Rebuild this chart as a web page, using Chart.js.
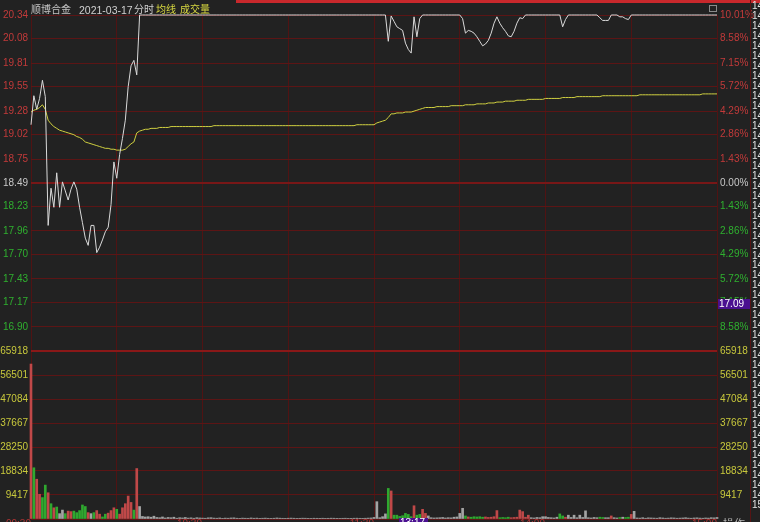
<!DOCTYPE html>
<html>
<head>
<meta charset="utf-8">
<title>顺博合金 分时</title>
<script src="https://cdn.jsdelivr.net/npm/chart.js@4.4.1/dist/chart.umd.min.js"></script>
<style>
  html, body { margin: 0; padding: 0; background: #222222; }
  #wrap { position: relative; width: 760px; height: 522px; overflow: hidden; background: #222222;
          font-family: "Liberation Sans", Arial, "Noto Sans CJK SC", sans-serif; }
  canvas { position: absolute; left: 0; }
  #priceChart { top: 0; }
  #volChart { top: 340px; }
  .txt { position: absolute; white-space: nowrap; font-size: 10px; line-height: 12px; }
  .cjk { font-family: "Noto Sans CJK SC", sans-serif; }
  .box { position: absolute; background: #4a1090; color: #ffffff; font-size: 10px; line-height: 10px; }
</style>
</head>
<body>
<div id="wrap">
  <canvas id="priceChart" width="760" height="340"></canvas>
  <canvas id="volChart" width="760" height="182"></canvas>
</div>
<script>
// minute data, 09:30 .. 11:30 / 13:00 .. 15:00 (241 points)
const price = [
  19.13, 19.45, 19.30, 19.42, 19.62, 19.44, 18.02, 18.43, 18.22, 18.60,
  18.22, 18.50, 18.40, 18.30, 18.42, 18.50, 18.42, 18.22, 18.05, 17.88,
  17.80, 18.02, 18.02, 17.72, 17.78, 17.86, 17.95, 18.00, 18.25, 18.72,
  18.54, 18.80, 18.98, 19.18, 19.55, 19.78, 19.84, 19.68, 20.34, 20.34,
  20.34, 20.34, 20.34, 20.34, 20.34, 20.34, 20.34, 20.34, 20.34, 20.34,
  20.34, 20.34, 20.34, 20.34, 20.34, 20.34, 20.34, 20.34, 20.34, 20.34,
  20.34, 20.34, 20.34, 20.34, 20.34, 20.34, 20.34, 20.34, 20.34, 20.34,
  20.34, 20.34, 20.34, 20.34, 20.34, 20.34, 20.34, 20.34, 20.34, 20.34,
  20.34, 20.34, 20.34, 20.34, 20.34, 20.34, 20.34, 20.34, 20.34, 20.34,
  20.34, 20.34, 20.34, 20.34, 20.34, 20.34, 20.34, 20.34, 20.34, 20.34,
  20.34, 20.34, 20.34, 20.34, 20.34, 20.34, 20.34, 20.34, 20.34, 20.34,
  20.34, 20.34, 20.34, 20.34, 20.34, 20.34, 20.34, 20.34, 20.34, 20.34,
  20.34, 20.34, 20.34, 20.34, 20.34, 20.05, 20.33, 20.27, 20.21, 20.19,
  20.17, 20.03, 19.96, 19.92, 20.32, 20.10, 20.30, 20.34, 20.34, 20.34,
  20.34, 20.34, 20.34, 20.34, 20.34, 20.34, 20.34, 20.34, 20.34, 20.34,
  20.34, 20.30, 20.14, 20.17, 20.16, 20.14, 20.10, 20.05, 20.00, 20.02,
  20.06, 20.14, 20.25, 20.32, 20.25, 20.20, 20.16, 20.11, 20.10, 20.16,
  20.25, 20.31, 20.30, 20.34, 20.34, 20.34, 20.34, 20.34, 20.34, 20.34,
  20.34, 20.34, 20.34, 20.34, 20.34, 20.34, 20.21, 20.29, 20.34, 20.34,
  20.34, 20.34, 20.34, 20.34, 20.34, 20.34, 20.34, 20.34, 20.34, 20.31,
  20.28, 20.28, 20.28, 20.34, 20.34, 20.34, 20.32, 20.32, 20.30, 20.29,
  20.34, 20.34, 20.34, 20.34, 20.34, 20.34, 20.34, 20.34, 20.34, 20.34,
  20.34, 20.34, 20.34, 20.34, 20.34, 20.34, 20.34, 20.34, 20.34, 20.34,
  20.34, 20.34, 20.34, 20.34, 20.34, 20.34, 20.34, 20.34, 20.34, 20.34,
  20.34
];

const avgLine = [
  19.27, 19.29, 19.30, 19.32, 19.35, 19.30, 19.18, 19.14, 19.11, 19.09,
  19.07, 19.06, 19.05, 19.04, 19.03, 19.02, 19.00, 18.99, 18.97, 18.94,
  18.93, 18.92, 18.91, 18.90, 18.89, 18.88, 18.87, 18.87, 18.86, 18.86,
  18.85, 18.85, 18.85, 18.86, 18.89, 18.92, 18.94, 19.04, 19.06, 19.07,
  19.08, 19.08, 19.09, 19.09, 19.09, 19.10, 19.10, 19.10, 19.10, 19.11,
  19.11, 19.11, 19.11, 19.11, 19.11, 19.11, 19.11, 19.11, 19.11, 19.11,
  19.11, 19.11, 19.11, 19.11, 19.12, 19.12, 19.12, 19.12, 19.12, 19.12,
  19.12, 19.12, 19.12, 19.12, 19.12, 19.12, 19.12, 19.12, 19.12, 19.12,
  19.12, 19.12, 19.12, 19.12, 19.12, 19.12, 19.12, 19.12, 19.12, 19.12,
  19.12, 19.12, 19.12, 19.12, 19.12, 19.12, 19.12, 19.12, 19.12, 19.12,
  19.12, 19.12, 19.12, 19.12, 19.12, 19.12, 19.12, 19.12, 19.12, 19.12,
  19.12, 19.12, 19.12, 19.12, 19.13, 19.13, 19.13, 19.13, 19.13, 19.13,
  19.13, 19.15, 19.16, 19.17, 19.18, 19.21, 19.25, 19.25, 19.26, 19.26,
  19.26, 19.27, 19.27, 19.27, 19.28, 19.29, 19.30, 19.31, 19.32, 19.32,
  19.32, 19.32, 19.33, 19.33, 19.33, 19.33, 19.33, 19.34, 19.34, 19.34,
  19.34, 19.34, 19.35, 19.35, 19.35, 19.35, 19.36, 19.36, 19.36, 19.36,
  19.37, 19.37, 19.37, 19.38, 19.38, 19.38, 19.39, 19.39, 19.39, 19.39,
  19.40, 19.40, 19.40, 19.40, 19.41, 19.41, 19.41, 19.41, 19.41, 19.41,
  19.42, 19.42, 19.42, 19.42, 19.42, 19.42, 19.43, 19.43, 19.43, 19.43,
  19.43, 19.44, 19.44, 19.44, 19.44, 19.44, 19.44, 19.44, 19.44, 19.44,
  19.45, 19.45, 19.45, 19.45, 19.45, 19.45, 19.45, 19.45, 19.45, 19.45,
  19.45, 19.45, 19.45, 19.46, 19.46, 19.46, 19.46, 19.46, 19.46, 19.46,
  19.46, 19.46, 19.46, 19.46, 19.46, 19.46, 19.46, 19.46, 19.46, 19.46,
  19.46, 19.46, 19.46, 19.46, 19.46, 19.47, 19.47, 19.47, 19.47, 19.47,
  19.47
];

const volume = [
  60800, 20100, 15600, 9700, 8400, 13300, 10300, 6000, 4400, 4700,
  2100, 3500, 2100, 3100, 2900, 3100, 2500, 3300, 5500, 4900,
  2500, 2100, 2500, 3300, 1900, 800, 1900, 2300, 3300, 4400,
  3800, 1900, 4400, 6000, 9000, 6500, 3500, 19800, 4900, 1000,
  800, 900, 700, 1100, 600, 500, 800, 400, 600, 500,
  700, 300, 500, 400, 600, 350, 450, 300, 500, 400,
  350, 300, 450, 500, 350, 300, 400, 250, 350, 300,
  400, 450, 300, 250, 350, 300, 280, 400, 300, 350,
  250, 300, 350, 280, 250, 300, 400, 320, 280, 260,
  300, 350, 300, 250, 280, 320, 300, 260, 240, 300,
  280, 260, 300, 250, 280, 320, 300, 260, 240, 280,
  300, 250, 270, 300, 320, 280, 260, 300, 350, 400,
  600, 6800, 500, 900, 2000, 12000, 11000, 1500, 1500, 1000,
  1300, 2200, 1800, 900, 5200, 1500, 1800, 3800, 2200, 1200,
  500, 400, 450, 500, 600, 400, 500, 450, 700, 800,
  2200, 4200, 1200, 800, 700, 900, 800, 900, 700, 800,
  600, 700, 900, 3300, 500, 600, 500, 700, 500, 600,
  700, 3500, 2900, 700, 1500, 500, 400, 600, 500, 900,
  900, 600, 500, 400, 700, 2000, 1200, 700, 1500, 600,
  1500, 500, 1500, 600, 3200, 500, 400, 600, 500, 700,
  600, 500, 500, 1200, 500, 400, 600, 700, 600, 700,
  1800, 3000, 400, 350, 500, 300, 450, 400, 350, 300,
  500, 400, 300, 350, 450, 400, 300, 350, 400, 500,
  350, 300, 400, 450, 350, 300, 400, 350, 500, 450,
  600
];

// r = up, g = down, w = unchanged (one letter per minute)
const volSide = (
  'rgrrggrgrg wwgrrggggg rwgrrggrrr grrrrrgrww ' +
  'wwwwwwwwww wwwwwwwwww wwwwwwwwww wwwwwwwwww ' +
  'wwwwwwwwww wwwwwwwwww wwwwwwwwww wwwwwwwwww ' +
  'wwwwwgrggg ggggrggrrw wwwwwwwwww wwgrgggggr ' +
  'rrrrggggrr rrrrrwwwww wwwwwggrww wwwwwwwwwg ' +
  'gwwrwwgwgg rwwwwwwwww wwwwwwwwww wwwwwwwwww w'
).replace(/ /g, '').split('');

const prevClose = 18.49;
const priceTicks = [16.90, 17.17, 17.43, 17.70, 17.96, 18.23, 18.49, 18.75, 19.02, 19.28, 19.55, 19.81, 20.08, 20.34];
const pctLabels = ['8.58%', '7.15%', '5.72%', '4.29%', '2.86%', '1.43%', '0.00%', '1.43%', '2.86%', '4.29%', '5.72%', '7.15%', '8.58%', '10.01%'];
const volTicks = [0, 9417, 18834, 28250, 37667, 47084, 56501, 65918];
const timeTicks = [0, 30, 60, 90, 120, 150, 180, 210, 240];
const timeLabels = ['09:30', '10:30', '11:30', '14:00', '15:00'];
const timeLabelAt = [0, 60, 120, 180, 240];

const RED = '#c23a3a';
const GREEN = '#2fb02f';
const WHITE = '#c8c8c8';
const YELLOW = '#c8c83c';
const GRID = '#5c1515';
const FONT = { family: '"Liberation Sans", Arial, sans-serif', size: 10 };

const sideColor = { r: '#c04848', g: '#2fa82f', w: '#a4a4a4' };

function priceColor(v) {
    if (Math.abs(v - prevClose) < 0.001) return WHITE;
    return v > prevClose ? RED : GREEN;
}

// fixed axis widths, and no extra room reserved for half-labels at the ends
function fixWidth(w) {
    return s => {
        s.width = w;
        s.paddingTop = 0; s.paddingBottom = 0;
    };
}

const xScale = {
    type: 'linear', min: 0, max: 240, offset: false,
    afterBuildTicks: s => { s.ticks = timeTicks.map(v => ({ value: v })); },
    afterFit: s => { s.height = 0; s.paddingLeft = 0; s.paddingRight = 0; },
    ticks: { display: false },
    grid: { color: '#501313', drawTicks: false, offset: false },
    border: { display: false }
};

// price panel: 16.90 sits at y=327, panel runs down to 340
new Chart(document.getElementById('priceChart'), {
    type: 'line',
    data: {
        datasets: [
            {
                data: price.map((v, i) => ({ x: i, y: v })),
                borderColor: '#dadada', borderWidth: 1, pointRadius: 0, tension: 0, clip: 3
            },
            {
                data: avgLine.map((v, i) => ({ x: i, y: v })),
                borderColor: '#d0d040', borderWidth: 1, pointRadius: 0, tension: 0, clip: 3
            }
        ]
    },
    options: {
        responsive: false, animation: false, devicePixelRatio: 1,
        layout: { padding: { top: 15, bottom: 0, left: 0, right: 0 } },
        plugins: { legend: { display: false }, tooltip: { enabled: false } },
        scales: {
            x: xScale,
            y: {
                position: 'left', min: 16.7566, max: 20.34,
                afterBuildTicks: s => { s.ticks = priceTicks.map(v => ({ value: v })); },
                afterFit: fixWidth(31),
                ticks: {
                    autoSkip: false, padding: 3, font: FONT,
                    callback: v => v.toFixed(2),
                    color: ctx => priceColor(ctx.tick.value)
                },
                grid: {
                    drawTicks: false,
                    color: ctx => Math.abs(ctx.tick.value - prevClose) < 0.001 ? '#781717' : GRID,
                    lineWidth: ctx => Math.abs(ctx.tick.value - prevClose) < 0.001 ? 2 : 1
                },
                border: { display: false }
            },
            yPct: {
                position: 'right', min: 16.7566, max: 20.34,
                afterBuildTicks: s => { s.ticks = priceTicks.map(v => ({ value: v })); },
                afterFit: fixWidth(43),
                ticks: {
                    autoSkip: false, padding: 3, font: FONT,
                    callback: v => pctLabels[priceTicks.indexOf(v)],
                    color: ctx => priceColor(ctx.tick.value)
                },
                grid: { display: false, drawTicks: false },
                border: { display: false }
            }
        }
    }
});

// volume panel: 65918 sits at y=351 (11px below panel top), zero at y=519
new Chart(document.getElementById('volChart'), {
    type: 'bar',
    data: {
        datasets: [{
            data: volume.map((v, i) => ({ x: i, y: v })),
            backgroundColor: volSide.map(s => sideColor[s]),
            barThickness: 2, borderWidth: 0, clip: false
        }]
    },
    options: {
        responsive: false, animation: false, devicePixelRatio: 1,
        layout: { padding: { top: 0, bottom: 3, left: 0, right: 0 } },
        plugins: { legend: { display: false }, tooltip: { enabled: false } },
        scales: {
            x: xScale,
            y: {
                position: 'left', min: 0, max: 70234,
                afterBuildTicks: s => { s.ticks = volTicks.map(v => ({ value: v })); },
                afterFit: fixWidth(31),
                ticks: {
                    autoSkip: false, padding: 3, font: FONT, color: YELLOW,
                    callback: v => v === 0 ? '' : String(v)
                },
                grid: {
                    drawTicks: false,
                    color: ctx => ctx.tick.value === 65918 ? '#8a1818' : GRID,
                    lineWidth: ctx => ctx.tick.value === 65918 ? 2 : 1
                },
                border: { display: false }
            },
            yRight: {
                position: 'right', min: 0, max: 70234,
                afterBuildTicks: s => { s.ticks = volTicks.map(v => ({ value: v })); },
                afterFit: fixWidth(43),
                ticks: {
                    autoSkip: false, padding: 3, font: FONT, color: YELLOW,
                    callback: v => v === 0 ? '' : String(v)
                },
                grid: { display: false, drawTicks: false },
                border: { display: false }
            }
        }
    }
});

// surrounding text and frame of the terminal window
const wrap = document.getElementById('wrap');
function addDiv(html, css, cls) {
    const d = document.createElement('div');
    d.className = cls || 'txt';
    d.innerHTML = html;
    d.style.cssText = css;
    wrap.appendChild(d);
    return d;
}

addDiv('', 'position:absolute;left:236px;top:0;width:524px;height:3px;background:#c8282c;', 'bar');
addDiv('', 'position:absolute;left:750px;top:0;width:1px;height:522px;background:#561414;', 'bar');
addDiv('', 'position:absolute;left:709px;top:5px;width:6px;height:5px;border:1px solid #8a8a8a;', 'bar');

addDiv('顺博合金', 'left:31px;top:3px;color:#c4c4c4;', 'txt cjk');
addDiv('2021-03-17', 'left:79px;top:4px;color:#d0d0d0;font-size:10.5px;');
addDiv('分时', 'left:134px;top:3px;color:#d0d0d0;', 'txt cjk');
addDiv('均线', 'left:156px;top:3px;color:#d8d840;', 'txt cjk');
addDiv('成交量', 'left:180px;top:3px;color:#d8d840;', 'txt cjk');

// time labels under the volume panel (mostly cut off by the window edge)
timeLabels.forEach((t, k) => {
    const x = 31 + timeLabelAt[k] * 686 / 240;
    addDiv(t, `right:${Math.round(760 - x)}px;top:518px;color:#b03434;`);
});
addDiv('13:17', 'left:399px;top:518px;width:28px;height:10px;padding-left:1px;', 'box');
addDiv('17.09', 'left:718px;top:299px;width:31px;height:10px;padding-left:1px;', 'box');
addDiv('操作', 'left:723px;top:517px;color:#b4b4b4;font-size:11px;', 'txt cjk');

// trade ticker column at the far right, only its first characters show
const tradeTimes = [];
for (let k = 0; k < 50; k++) tradeTimes.push('14:5' + (k % 10));
tradeTimes.push('15:00');
tradeTimes.forEach((t, k) => {
    addDiv(t, `left:752px;top:${Math.round(k * 9.98)}px;color:#e2e2e2;`);
});
</script>
</body>
</html>
